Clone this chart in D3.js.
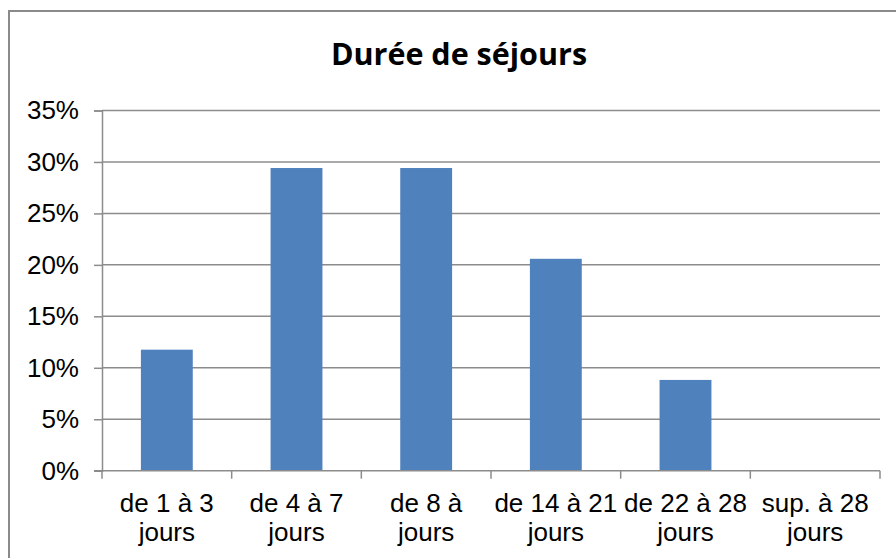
<!DOCTYPE html>
<html>
<head>
<meta charset="utf-8">
<script src="https://cdn.jsdelivr.net/npm/d3@7"></script>
<style>
  html, body { margin: 0; padding: 0; background: #fff; }
  svg { display: block; }
</style>
</head>
<body>
<script>
const title = "Durée de séjours";
const categories = [
  ["de 1 à 3", "jours"],
  ["de 4 à 7", "jours"],
  ["de 8 à", "jours"],
  ["de 14 à 21", "jours"],
  ["de 22 à 28", "jours"],
  ["sup. à 28", "jours"]
];
const values = [0.1176, 0.2941, 0.2941, 0.2059, 0.0882, 0];
const yTicks = [0, 0.05, 0.10, 0.15, 0.20, 0.25, 0.30, 0.35];

const W = 896, H = 558;
const margin = { left: 102, right: 16, top: 110.5, bottom: 87 };
const svg = d3.select("body").append("svg").attr("width", W).attr("height", H);

// outer frame
svg.append("rect").attr("x", 9).attr("y", 11).attr("width", W + 10).attr("height", H + 10)
  .attr("fill", "#fff").attr("stroke", "#8a8a8a").attr("stroke-width", 2);

const xb = d3.scaleBand().domain(categories.map((d, i) => i)).range([margin.left, 880]);
const y = d3.scaleLinear().domain([0, 0.35]).range([470.7, 110.5]);

// gridlines
svg.append("g").selectAll("line").data(yTicks.slice(1)).join("line")
  .attr("x1", margin.left).attr("x2", 880)
  .attr("y1", d => y(d)).attr("y2", d => y(d))
  .attr("stroke", "#8c8c8c").attr("stroke-width", 1.5);

// bars
svg.append("g").selectAll("rect").data(values).join("rect")
  .attr("x", (d, i) => xb(i) + xb.bandwidth() * 0.3)
  .attr("width", xb.bandwidth() * 0.4)
  .attr("y", d => y(d))
  .attr("height", d => y(0) - y(d))
  .attr("fill", "#4F81BD");

// y axis
const yAxis = svg.append("g").attr("transform", `translate(${margin.left},0)`)
  .call(d3.axisLeft(y).tickValues(yTicks).tickFormat(d3.format(".0%")).tickSize(8).tickPadding(15));
yAxis.select(".domain").attr("stroke", "#8c8c8c").attr("stroke-width", 1.5);
yAxis.selectAll(".tick line").attr("stroke", "#8c8c8c").attr("stroke-width", 1.5);
yAxis.selectAll(".tick text").attr("font-family", "'Liberation Sans', Arial, sans-serif")
  .attr("font-size", 26).attr("fill", "#000").attr("dy", "0.32em");

// x axis
const xAxis = svg.append("g").attr("transform", `translate(0,${y(0)})`);
xAxis.append("line").attr("x1", margin.left - 8).attr("x2", 880).attr("y1", 0).attr("y2", 0)
  .attr("stroke", "#8c8c8c").attr("stroke-width", 1.5);
const edges = categories.map((d, i) => xb(i)).concat([xb(categories.length - 1) + xb.bandwidth()]);
xAxis.selectAll("line.tk").data(edges).join("line").attr("class", "tk")
  .attr("x1", d => d).attr("x2", d => d).attr("y1", 0).attr("y2", 8)
  .attr("stroke", "#8c8c8c").attr("stroke-width", 1.5);
const lbl = xAxis.selectAll("text").data(categories).join("text")
  .attr("x", (d, i) => xb(i) + xb.bandwidth() / 2)
  .attr("text-anchor", "middle")
  .attr("font-family", "'Liberation Sans', Arial, sans-serif")
  .attr("font-size", 26).attr("fill", "#000");
lbl.selectAll("tspan").data(d => d).join("tspan")
  .attr("x", function() { return d3.select(this.parentNode).attr("x"); })
  .attr("y", (d, j) => 41 + j * 29.5)
  .text(d => d);

// title
svg.append("text").attr("x", 459).attr("y", 65).attr("text-anchor", "middle")
  .attr("font-family", "'Open Sans', Lato, sans-serif").attr("font-weight", "bold")
  .attr("font-size", 30.5).attr("fill", "#000").text(title);
</script>
</body>
</html>
